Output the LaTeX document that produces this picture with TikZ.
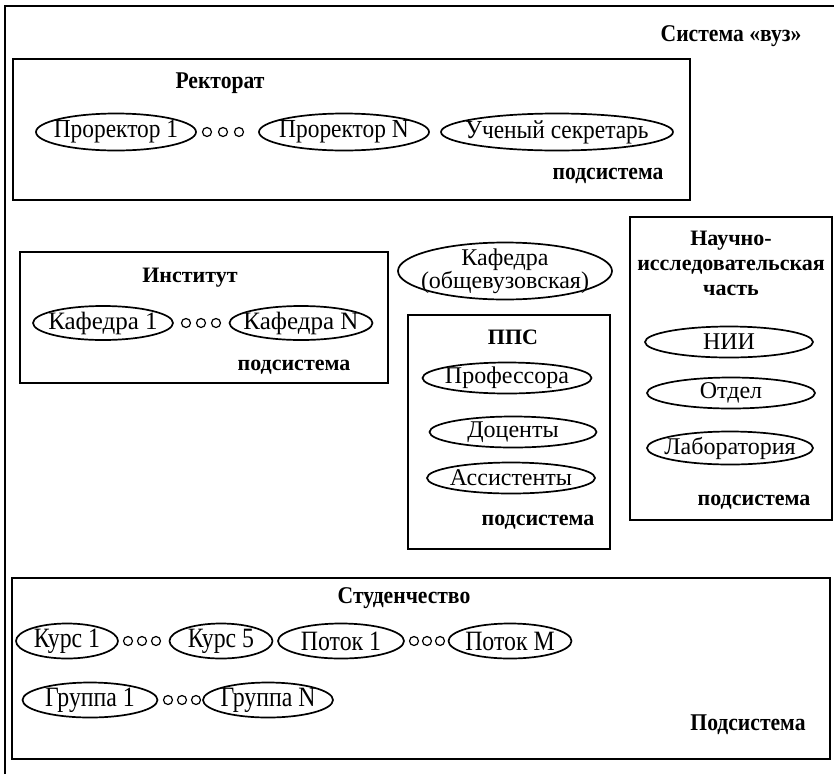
\documentclass[tikz,border=0pt]{standalone}
\usepackage{fontspec}
\setmainfont{Liberation Serif}
\newfontfamily\narrowserif[FakeStretch=0.9]{Liberation Serif}
\newfontfamily\narrowerserif[FakeStretch=0.85]{Liberation Serif}
\usetikzlibrary{shapes.geometric}

\begin{document}
\begin{tikzpicture}[x=1pt,y=-1pt,
  frame/.style={draw, line width=1.7pt},
  oval/.style 2 args={ellipse, draw, line width=1.7pt, inner sep=0pt,
    minimum width=#1pt, minimum height=#2pt},
  dot/.style={circle, draw, line width=1.2pt, inner sep=0pt, minimum size=9pt},
  headC/.style={font=\narrowserif\bfseries\fontsize{24}{26}\selectfont},
  headN/.style={font=\bfseries\fontsize{22}{25}\selectfont},
  lblC/.style={font=\narrowserif\fontsize{26}{28}\selectfont},
  lblS/.style={font=\narrowerserif\fontsize{28}{30}\selectfont},
  lblI/.style={font=\fontsize{25}{27}\selectfont},
  lblN/.style={font=\fontsize{24}{26}\selectfont},
]
\useasboundingbox (0,0) rectangle (834,774);

% outer system frame
\draw[frame] (5,774) -- (5,6) -- (834,6);
\node[headC] (sys) at (731,36) {Система «вуз»};

% Rectorate subsystem
\draw[frame] (13,59) rectangle (690,200);
\node[headC] (rekt) at (220,83) {Ректорат};
\node[oval={160}{37}, label={[lblC]center:Проректор 1}] (pr1) at (116,132) {};
\node[dot] (rd1) at (207,132) {};
\node[dot] (rd2) at (223,132) {};
\node[dot] (rd3) at (239,132) {};
\node[oval={170}{37}, label={[lblC]center:Проректор N}] (prN) at (344,132) {};
\node[oval={232}{37}, label={[lblC]center:Ученый секретарь}] (sec) at (557,132) {};
\node[headC] (rsub) at (608,176) {подсистема};

% Institute subsystem
\draw[frame] (20,252) rectangle (388,383);
\node[headN] (inst) at (190,278) {Институт};
\node[oval={140}{34}, label={[lblI]center:Кафедра 1}] (kf1) at (103,323) {};
\node[dot] (id1) at (186,323) {};
\node[dot] (id2) at (201,323) {};
\node[dot] (id3) at (216,323) {};
\node[oval={143}{34}, label={[lblI]center:Кафедра N}] (kfN) at (301,323) {};
\node[headN] (isub) at (294,367) {подсистема};

% university-wide department
\node[oval={214}{57}, label={[lblN, align=center]center:{Кафедра\\[-3pt](общевузовская)}}] (kfu) at (505,271) {};

% teaching staff subsystem
\draw[frame] (408,315) rectangle (610,549);
\node[headN] (pps) at (513,337) {ППС};
\node[oval={169}{31}, label={[lblN]center:Профессора}] (prof) at (507,378) {};
\node[oval={167}{31}, label={[lblN]center:Доценты}] (doc) at (513,432) {};
\node[oval={168}{31}, label={[lblN]center:Ассистенты}] (ass) at (511,478) {};
\node[headN] (psub) at (538,522) {подсистема};

% research subsystem
\draw[frame] (630,217) rectangle (832,520);
\node[headN, align=center] (nich) at (731,263) {Научно-\\исследовательская\\часть};
\node[oval={168}{31}, label={[lblN]center:НИИ}] (nii) at (729,342) {};
\node[oval={168}{31}, label={[lblN]center:Отдел}] (otd) at (731,393) {};
\node[oval={166}{33}, label={[lblN]center:Лаборатория}] (lab) at (730,448) {};
\node[headN] (nsub) at (754,502) {подсистема};

% student subsystem
\draw[frame] (12,578) rectangle (830,759);
\node[headC] (stud) at (404,598) {Студенчество};
\node[oval={102}{35}, label={[lblS]center:Курс 1}] (k1) at (67,641) {};
\node[dot] (sd1) at (128,641) {};
\node[dot] (sd2) at (142,641) {};
\node[dot] (sd3) at (156,641) {};
\node[oval={103}{35}, label={[lblS]center:Курс 5}] (k5) at (221,641) {};
\node[oval={126}{35}, label={[lblS]center:Поток 1}] (p1) at (341,641) {};
\node[dot] (sd4) at (414,641) {};
\node[dot] (sd5) at (427,641) {};
\node[dot] (sd6) at (440,641) {};
\node[oval={123}{35}, label={[lblS]center:Поток М}] (pM) at (510,641) {};
\node[oval={135}{35}, label={[lblS]center:Группа 1}] (g1) at (90,700) {};
\node[dot] (gd1) at (168,700) {};
\node[dot] (gd2) at (182,700) {};
\node[dot] (gd3) at (196,700) {};
\node[oval={130}{35}, label={[lblS]center:Группа N}] (gN) at (268,700) {};
\node[headC] (ssub) at (748,725) {Подсистема};
\end{tikzpicture}
\end{document}
